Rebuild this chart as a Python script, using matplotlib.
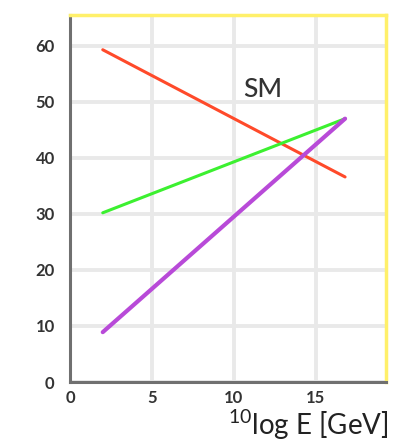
import matplotlib
matplotlib.use("Agg")
import matplotlib.pyplot as plt

# Inverse gauge couplings running with energy (Standard Model)
log_energy = [2.0, 16.8]
inv_alpha1 = [59.3, 36.6]
inv_alpha2 = [30.2, 47.0]
inv_alpha3 = [8.9, 47.0]

x_ticks = [0, 5, 10, 15]
y_ticks = [0, 10, 20, 30, 40, 50, 60]

plt.rcParams["font.family"] = ["Lato", "DejaVu Sans"]
plt.rcParams["mathtext.fontset"] = "custom"
plt.rcParams["mathtext.rm"] = "Lato"
plt.rcParams["mathtext.it"] = "Lato"
plt.rcParams["mathtext.bf"] = "Lato:bold"

fig = plt.figure(figsize=(3.94, 4.44), dpi=100)
ax = fig.add_axes([0.1777, 0.1396, 0.8020, 0.8266])

ax.plot(log_energy, inv_alpha1, color="#ff4a2a", lw=2.2, solid_capstyle="round", zorder=3)
ax.plot(log_energy, inv_alpha2, color="#3cf030", lw=2.2, solid_capstyle="round", zorder=3)
ax.plot(log_energy, inv_alpha3, color="#b84ad8", lw=3.0, solid_capstyle="round", zorder=3)

ax.set_xlim(0, 19.3)
ax.set_ylim(0, 65.5)
ax.set_xticks(x_ticks)
ax.set_yticks(y_ticks)
ax.grid(True, color="#e9e9e9", lw=2.8, zorder=0)
ax.set_axisbelow(True)

for side in ("left", "bottom"):
    ax.spines[side].set_color("#707070")
    ax.spines[side].set_linewidth(2.2)
for side in ("top", "right"):
    ax.spines[side].set_color("#fff06a")
    ax.spines[side].set_linewidth(2.5)

ax.tick_params(axis="y", length=0, labelsize=12, labelcolor="#333333", pad=11)
ax.tick_params(axis="x", length=0, labelsize=12, labelcolor="#333333", pad=6)
for lbl in ax.get_xticklabels() + ax.get_yticklabels():
    lbl.set_fontweight("bold")

ax.text(10.6, 50.8, "SM", fontsize=19, fontweight="medium", color="#333333")

fig.text(0.987, 0.005, r"$^{10}$log E [GeV]", ha="right", va="bottom",
         fontsize=20, color="#222222")

fig.savefig("out.png", dpi=100)
